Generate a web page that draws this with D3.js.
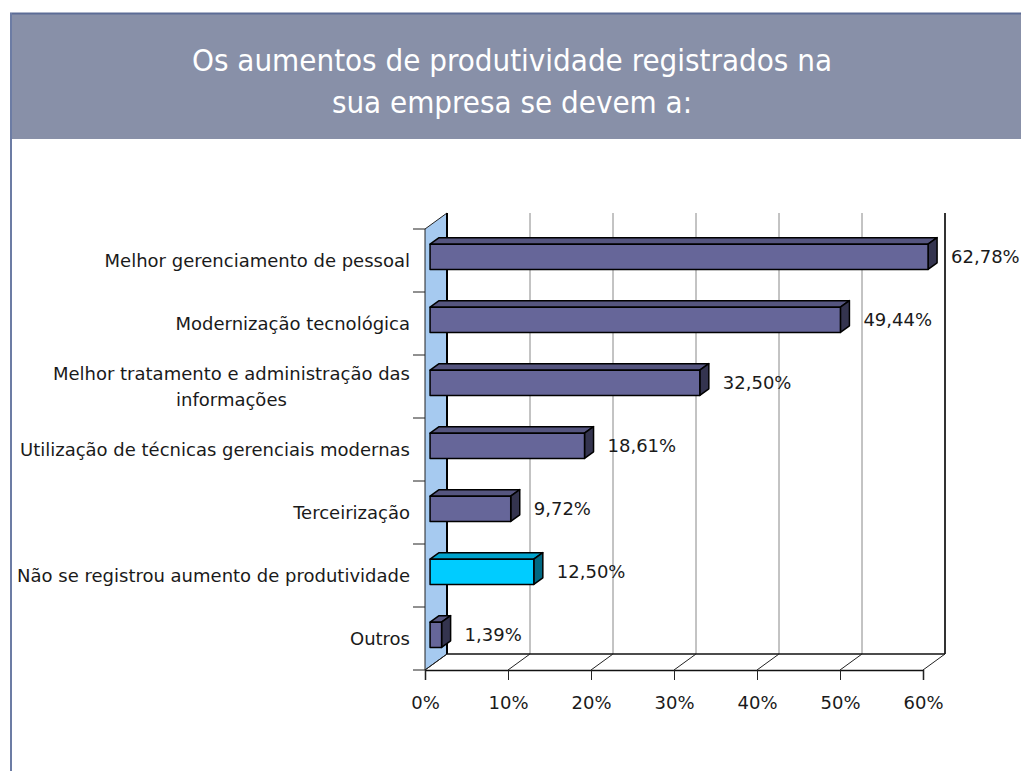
<!DOCTYPE html>
<html>
<head>
<meta charset="utf-8">
<script src="https://cdn.jsdelivr.net/npm/d3@7"></script>
<style>
  body { margin: 0; background: #fff; }
  svg { display: block; }
  .cat, .val, .tick text { font-family: 'DejaVu Sans', Verdana, sans-serif; font-size: 18px; fill: #1a1a1a; }
  .title { font-family: 'DejaVu Sans Condensed', 'DejaVu Sans', sans-serif; font-stretch: condensed; font-size: 31px; fill: #fff; }
</style>
</head>
<body>
<svg id="chart"></svg>
<script>
// data
const categories = [
  'Melhor gerenciamento de pessoal',
  'Modernização tecnológica',
  'Melhor tratamento e administração das\ninformações',
  'Utilização de técnicas gerenciais modernas',
  'Terceirização',
  'Não se registrou aumento de produtividade',
  'Outros'
]
const values = [62.78, 49.44, 32.5, 18.61, 9.72, 12.5, 1.39]
const highlighted = ['Não se registrou aumento de produtividade']
const xTicks = [0, 10, 20, 30, 40, 50, 60]
const titleLines = ['Os aumentos de produtividade registrados na', 'sua empresa se devem a:']

const W = 1021
const H = 771
const svg = d3.select('#chart').attr('width', W).attr('height', H)

/// banner and frame
svg.append('rect').attr('x', 10).attr('y', 13).attr('width', W - 10).attr('height', 126)
  .attr('fill', '#8890a8')
svg.append('line').attr('x1', 10).attr('x2', W).attr('y1', 13.5).attr('y2', 13.5)
  .attr('stroke', '#5c6c96').attr('stroke-width', 2)
svg.append('line').attr('x1', 11).attr('x2', 11).attr('y1', 13).attr('y2', H)
  .attr('stroke', '#6c7ca4').attr('stroke-width', 2)

svg.selectAll('.title').data(titleLines).enter().append('text')
  .attr('class', 'title')
  .attr('x', 512)
  .attr('y', (d, i) => 71 + i * 42)
  .attr('text-anchor', 'middle')
  .text(d => d)

/// scales (front plane)
const xScale = d3.scaleLinear().domain([0, 60]).range([425, 923]).clamp(true)
const yScale = d3.scaleBand().domain(categories).range([229, 670]).padding(0)
const depth = { x: 22, y: -16 }
const f0 = 0.23
const f1 = 0.64
const barH = yScale.bandwidth() * 0.4

const yTop = yScale.range()[0]
const yBot = yScale.range()[1]

/// walls
const plot = svg.append('g')
const x0 = xScale(0)
plot.append('polygon')
  .attr('points', [[x0, yTop], [x0 + depth.x, yTop + depth.y], [x0 + depth.x, yBot + depth.y], [x0, yBot]].join(' '))
  .attr('fill', '#a6caf0').attr('stroke', '#222').attr('stroke-width', 1)

// back wall gridlines
plot.selectAll('.grid').data(xTicks).enter().append('line')
  .attr('class', 'grid')
  .attr('x1', d => xScale(d) + depth.x).attr('x2', d => xScale(d) + depth.x)
  .attr('y1', yTop + depth.y).attr('y2', yBot + depth.y)
  .attr('stroke', d => (d === 0 ? '#000' : d === 60 ? '#333' : '#888'))
  .attr('stroke-width', d => (d === 0 || d === 60 ? 2 : 1))

// floor
plot.append('line')
  .attr('x1', xScale(0) + depth.x).attr('x2', xScale(60) + depth.x)
  .attr('y1', yBot + depth.y).attr('y2', yBot + depth.y)
  .attr('stroke', '#111').attr('stroke-width', 1.5)
plot.selectAll('.floor').data(xTicks).enter().append('line')
  .attr('class', 'floor')
  .attr('x1', d => xScale(d)).attr('x2', d => xScale(d) + depth.x)
  .attr('y1', yBot).attr('y2', yBot + depth.y)
  .attr('stroke', '#222').attr('stroke-width', 1)

/// x axis
const xAxis = plot.append('g')
  .attr('transform', 'translate(0,' + yBot + ')')
  .call(d3.axisBottom(xScale).tickValues(xTicks).tickSize(10).tickPadding(16).tickFormat(d => d + '%'))
xAxis.select('.domain').attr('stroke', '#111').attr('stroke-width', 1.5)
xAxis.selectAll('.tick line').attr('stroke', '#222')

// y ticks at band edges
const edges = categories.map(c => yScale(c)).concat([yBot])
plot.selectAll('.ytick').data(edges).enter().append('line')
  .attr('class', 'ytick')
  .attr('x1', x0 - 12).attr('x2', x0)
  .attr('y1', d => d).attr('y2', d => d)
  .attr('stroke', '#222')

/// bars
const bars = plot.append('g')
categories.forEach((c, i) => {
  const v = values[i]
  const hi = highlighted.includes(c)
  const fill = hi ? ['#00ccff', '#00a2cc', '#006882'] : ['#666699', '#55557f', '#34344f']
  const cy = yScale(c) + yScale.bandwidth() / 2
  const ax = xScale(0) + depth.x * f0
  const bx = xScale(v) + depth.x * f0
  const ay = cy + depth.y * f0 - barH / 2
  const by = ay + barH
  const dx = depth.x * (f1 - f0)
  const dy = depth.y * (f1 - f0)
  const g = bars.append('g').attr('stroke', '#000').attr('stroke-width', 1.5).attr('stroke-linejoin', 'round')
  g.append('polygon').attr('points', [[ax, ay], [ax + dx, ay + dy], [bx + dx, ay + dy], [bx, ay]].join(' ')).attr('fill', fill[1])
  g.append('polygon').attr('points', [[bx, ay], [bx + dx, ay + dy], [bx + dx, by + dy], [bx, by]].join(' ')).attr('fill', fill[2])
  g.append('rect').attr('x', ax).attr('y', ay).attr('width', bx - ax).attr('height', barH).attr('fill', fill[0])

  bars.append('text')
    .attr('class', 'val')
    .attr('x', bx + dx + 14)
    .attr('y', cy + depth.y * f0)
    .attr('dy', '0.35em')
    .text(d3.format('.2f')(v).replace('.', ',') + '%')
})

/// category labels
const labels = plot.append('g')
categories.forEach(c => {
  const lines = c.split('\n')
  const cy = yScale(c) + yScale.bandwidth() / 2
  const lh = 26
  const t = labels.append('text').attr('class', 'cat')
  const tspans = lines.map((l, j) =>
    t.append('tspan').attr('y', cy + (j - (lines.length - 1) / 2) * lh).attr('dy', '0.35em').text(l))
  // block right aligned, lines centred on each other
  const wMax = d3.max(tspans, s => s.node().getComputedTextLength())
  const right = x0 - 15
  tspans.forEach(s => {
    s.attr('x', right - wMax / 2).attr('text-anchor', 'middle')
  })
})
</script>
</body>
</html>
